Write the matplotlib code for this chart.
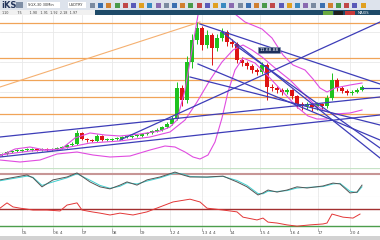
import matplotlib
matplotlib.use('Agg')
import matplotlib.pyplot as plt
from matplotlib.patches import Rectangle

# candles (index = bar number, price scale of the main pane)
opens = [10.63, 10.64, 10.66, 10.67, 10.67, 10.68, 10.68, 10.69, 10.68, 10.69,
         10.68, 10.69, 10.70, 10.71, 10.73, 10.74, 10.85, 10.79, 10.78, 10.77,
         10.82, 10.78, 10.78, 10.79, 10.79, 10.81, 10.81, 10.82, 10.82, 10.84,
         10.85, 10.87, 10.88, 10.91, 10.94, 10.99, 11.30, 11.18, 11.56, 11.78,
         11.90, 11.73, 11.83, 11.70, 11.80, 11.86, 11.76, 11.74, 11.58, 11.55,
         11.52, 11.48, 11.46, 11.53, 11.31, 11.30, 11.28, 11.26, 11.28, 11.22,
         11.14, 11.12, 11.14, 11.11, 11.14, 11.12, 11.20, 11.38, 11.30, 11.27,
         11.25, 11.26, 11.28]
closes = [10.64, 10.66, 10.67, 10.67, 10.68, 10.68, 10.69, 10.68, 10.69, 10.68,
          10.69, 10.70, 10.71, 10.73, 10.74, 10.85, 10.79, 10.78, 10.77, 10.82,
          10.78, 10.78, 10.79, 10.79, 10.81, 10.81, 10.82, 10.82, 10.84, 10.85,
          10.87, 10.88, 10.91, 10.94, 10.99, 11.30, 11.18, 11.56, 11.78, 11.90,
          11.73, 11.83, 11.70, 11.80, 11.86, 11.76, 11.74, 11.58, 11.55, 11.52,
          11.48, 11.46, 11.53, 11.31, 11.30, 11.28, 11.26, 11.28, 11.22, 11.14,
          11.12, 11.14, 11.11, 11.14, 11.12, 11.20, 11.38, 11.30, 11.27, 11.25,
          11.26, 11.28, 11.31]
highs = [10.65, 10.67, 10.68, 10.69, 10.69, 10.70, 10.70, 10.70, 10.70, 10.70,
         10.70, 10.71, 10.72, 10.74, 10.76, 10.88, 10.86, 10.80, 10.79, 10.84,
         10.83, 10.80, 10.80, 10.81, 10.82, 10.83, 10.83, 10.84, 10.85, 10.86,
         10.88, 10.90, 10.92, 10.96, 11.02, 11.36, 11.33, 11.62, 11.84, 11.96,
         11.92, 11.88, 11.85, 11.84, 11.90, 11.88, 11.79, 11.76, 11.61, 11.57,
         11.54, 11.50, 11.56, 11.55, 11.34, 11.32, 11.30, 11.30, 11.29, 11.23,
         11.16, 11.16, 11.15, 11.16, 11.15, 11.23, 11.45, 11.40, 11.32, 11.29,
         11.28, 11.30, 11.33]
lows = [10.62, 10.63, 10.65, 10.66, 10.66, 10.67, 10.67, 10.67, 10.67, 10.67,
        10.67, 10.68, 10.69, 10.70, 10.72, 10.73, 10.78, 10.76, 10.76, 10.76,
        10.77, 10.77, 10.77, 10.78, 10.78, 10.80, 10.80, 10.81, 10.81, 10.83,
        10.84, 10.86, 10.87, 10.90, 10.93, 10.98, 11.12, 11.15, 11.50, 11.74,
        11.68, 11.70, 11.53, 11.67, 11.77, 11.72, 11.71, 11.55, 11.52, 11.49,
        11.45, 11.43, 11.44, 11.18, 11.27, 11.25, 11.23, 11.24, 11.19, 11.10,
        11.08, 11.09, 11.07, 11.08, 11.09, 11.10, 11.18, 11.27, 11.25, 11.23,
        11.23, 11.25, 11.27]

# bollinger traces
bb_up_x = [-0.4, 2.6, 5.6, 8.6, 11.6, 14.6, 17.6, 20.6, 23.6, 27.6, 31.6, 33.6, 35.0,
           36.6, 38.0, 39.2, 40.6, 43.6, 45.6, 48.6, 52.0, 54.0, 56.2, 58.2, 60.6,
           62.2, 63.6, 65.0, 66.6, 69.6, 72.0]
bb_up = [10.62, 10.69, 10.71, 10.68, 10.68, 10.80, 10.85, 10.83, 10.82, 10.84, 10.87,
         10.91, 10.98, 11.28, 11.68, 12.03, 12.28, 12.23, 12.08, 11.96, 11.89, 11.80,
         11.63, 11.53, 11.48, 11.39, 11.30, 11.26, 11.30, 11.33, 11.35]
bb_mid_x = [-0.4, 5.6, 11.6, 17.6, 23.6, 29.6, 33.6, 36.6, 39.0, 41.6, 44.0, 46.2,
            48.2, 50.0, 52.0, 54.6, 57.6, 60.2, 62.6, 64.6, 66.6, 69.6, 72.0]
bb_mid = [10.63, 10.67, 10.69, 10.75, 10.77, 10.81, 10.86, 10.98, 11.16, 11.38, 11.56,
          11.68, 11.73, 11.68, 11.61, 11.50, 11.38, 11.25, 11.13, 11.07, 11.04, 11.05,
          11.08]
bb_low_x = [-0.4, 3.6, 7.6, 11.0, 15.0, 18.2, 21.6, 25.6, 29.6, 32.6, 34.6, 36.6,
            38.2, 39.6, 41.2, 42.6, 44.0, 45.2, 46.6, 48.2, 50.6, 53.2, 56.2, 59.0,
            61.2, 63.0, 65.0]
bb_low = [10.58, 10.56, 10.58, 10.64, 10.66, 10.63, 10.61, 10.62, 10.68, 10.72, 10.71,
          10.66, 10.61, 10.59, 10.63, 10.76, 11.00, 11.26, 11.48, 11.60, 11.55, 11.42,
          11.26, 11.11, 11.02, 10.99, 10.99]

# drawn objects
h_levels = [11.95, 11.60, 11.38, 11.21, 11.04]
fan_line = [(-0.4, 11.31), (39.6, 11.96)]
trend_lines = [
    [(-0.4, 10.81), (75.6, 11.21)],
    [(-0.4, 10.61), (75.6, 11.03)],
    [(23.6, 10.78), (75.6, 11.96)],
    [(39.6, 11.94), (75.6, 11.34)],
    [(44.0, 11.86), (75.6, 10.60)],
    [(46.6, 11.73), (75.6, 10.70)],
    [(39.2, 11.54), (75.6, 10.78)],
    [(37.6, 11.41), (75.6, 10.93)],
    [(72.0, 11.30), (75.6, 11.30)],
]

# oscillator pane
osc_x = [-0.4, 5.0, 6.2, 8.0, 10.2, 13.0, 15.0, 17.6, 19.6, 21.6, 23.6, 25.0, 27.0,
         29.0, 31.6, 34.6, 36.2, 37.6, 41.0, 44.2, 47.0, 49.0, 51.2, 52.2, 53.2,
         55.0, 57.0, 59.0, 61.0, 64.2, 66.2, 67.6, 69.6, 71.0, 72.0]
osc_k = [59, 76, 66, 35, 59, 69, 83, 52, 35, 28, 41, 52, 41, 59, 69, 86, 76, 69, 69,
         72, 52, 35, 7, 14, 24, 17, 24, 35, 31, 38, 48, 45, 14, 17, 41]
osc_d = [56, 72, 68, 40, 52, 66, 80, 58, 40, 30, 37, 49, 45, 55, 66, 83, 79, 71, 68,
         71, 57, 40, 12, 11, 20, 19, 22, 31, 33, 36, 45, 47, 20, 15, 35]

# lower pane
ind_x = [-0.4, 1.0, 2.2, 3.6, 6.2, 9.0, 11.6, 13.0, 15.0, 16.0, 18.0, 19.6, 21.6,
         23.6, 26.2, 29.0, 31.6, 34.2, 37.6, 39.6, 41.0, 44.2, 47.0, 48.2, 51.0,
         52.2, 53.2, 55.0, 57.0, 59.0, 61.6, 64.2, 65.0, 66.0, 68.2, 70.2, 71.6]
ind_v = [64, 81, 68, 64, 58, 58, 55, 74, 81, 58, 52, 48, 42, 48, 42, 52, 68, 84, 93,
         84, 64, 58, 52, 35, 26, 32, 19, 16, 10, 6, 10, 13, 16, 45, 35, 32, 45]

tick_pos = [4.0, 10.2, 16.0, 22.0, 27.6, 33.6, 40.0, 45.6, 51.6, 57.6, 63.2, 69.6]
tick_lab = ['05', '06 4', '07', '08', '09', '12 4', '13 4 4', '14', '15 4', '16 4',
            '17', '20 4']

BLUE = '#3d3db8'
ORANGE = '#f0a458'
MAGENTA = '#e04ce0'
GRID = '#e9e9e9'

fig = plt.figure(figsize=(3.8, 2.4), dpi=100)


def fx(x):
    return x / 380


def fy(y):
    return 1 - y / 240


def box(x0, y0, x1, y1, c, **kw):
    fig.add_artist(Rectangle((fx(x0), fy(y1)), fx(x1) - fx(x0), fy(y0) - fy(y1),
                             transform=fig.transFigure, color=c, lw=0, **kw))


# toolbar + info bar
box(0, 0, 380, 10, '#dde3ec')
box(0, 10, 95, 15, '#f1f1f1')
box(95, 10, 380, 15, '#1e4a68')
fig.text(fx(1), fy(5), 'iKS', fontsize=6, weight='bold', color='#22345a', va='center')
box(16, 2, 23, 8, '#7f8fa6')
box(27, 2, 60, 8, 'white')
fig.text(fx(28), fy(5), 'SGX-30 30Min', fontsize=2.6, color='#333', va='center')
box(68, 2, 86, 8, 'white')
fig.text(fx(69), fy(5), 'USDTRY', fontsize=2.6, color='#333', va='center')
icon_cols = ['#7a8aa0', '#3a6fb0', '#d08030', '#4a9a4a', '#c04848', '#5a5ab8', '#e0a020',
             '#3a8ac0', '#8a6ab0']
for k in range(34):
    box(90 + k * 8.2, 3, 95 + k * 8.2, 8, icon_cols[k % len(icon_cols)])
fig.text(fx(2), fy(12.6), '110        75       1.90   1.91  1.92  2.18  1.97 ', fontsize=2.4,
         color='#444', va='center')
box(323, 11, 333, 14.5, '#6aaa40')
box(334, 11, 343, 14.5, '#202020')
box(345, 11, 355, 14.5, '#c83a3a')
fig.text(fx(358), fy(12.7), 'MAXIS', fontsize=2.6, color='white', va='center')
box(0, 236, 380, 240, '#d2d2d2')

# main pane
ax = fig.add_axes([0, fy(168), 1, 153 / 240])
ax.set_xlim(-0.4, 75.6)
ax.set_ylim(10.50, 12.03)
ax.axis('off')
for t in tick_pos:
    ax.axvline(t, color=GRID, lw=0.6, zorder=0)
for p in [10.66, 10.96, 11.26, 11.56, 11.86]:
    ax.axhline(p, color=GRID, lw=0.6, zorder=0)
for p in h_levels:
    ax.axhline(p, color=ORANGE, lw=0.9, zorder=1)
ax.plot([fan_line[0][0], fan_line[1][0]], [fan_line[0][1], fan_line[1][1]],
        color='#f5b070', lw=0.8, zorder=1)

for i in range(len(closes)):
    c = '#1fc21f' if closes[i] >= opens[i] else '#dd1414'
    ax.vlines(i, lows[i], highs[i], color=c, lw=0.7, zorder=2)
    lo = min(opens[i], closes[i])
    hgt = max(abs(closes[i] - opens[i]), 0.008)
    ax.bar(i, hgt, bottom=lo, width=0.68, color=c, lw=0, zorder=2)

ax.plot(bb_up_x, bb_up, color=MAGENTA, lw=0.8, zorder=3)
ax.plot(bb_mid_x, bb_mid, color=MAGENTA, lw=0.8, zorder=3)
ax.plot(bb_low_x, bb_low, color=MAGENTA, lw=0.8, zorder=3)
for (x0, y0), (x1, y1) in trend_lines:
    ax.plot([x0, x1], [y0, y1], color=BLUE, lw=0.9, zorder=4)
ax.text(53.4, 11.68, '11.68.88', fontsize=3.2, color='white', ha='center', va='center',
        zorder=5, bbox=dict(boxstyle='square,pad=0.25', fc='#1c2f5a', ec='#8090b0', lw=0.4))

# oscillator pane
ax1 = fig.add_axes([0, fy(197), 1, 29 / 240])
ax1.set_xlim(-0.4, 75.6)
ax1.set_ylim(0, 100)
ax1.axis('off')
for t in tick_pos:
    ax1.axvline(t, color=GRID, lw=0.6, zorder=0)
ax1.axhline(99, color='#c6e2c6', lw=0.9)
ax1.axhline(78, color='#c79696', lw=1.5)
ax1.axhline(1, color='#e2e2e2', lw=0.8)
ax1.plot(osc_x, osc_d, color='#3fd0d0', lw=0.7)
ax1.plot(osc_x, osc_k, color='#555555', lw=0.7)

# lower pane
ax2 = fig.add_axes([0, fy(228), 1, 31 / 240])
ax2.set_xlim(-0.4, 75.6)
ax2.set_ylim(0, 100)
for s in ax2.spines.values():
    s.set_visible(False)
ax2.set_yticks([])
for t in tick_pos:
    ax2.axvline(t, color=GRID, lw=0.6, zorder=0)
ax2.axhline(61, color='#a33030', lw=1.0)
ax2.axhline(6.5, color='#4c9e4c', lw=1.0)
ax2.plot(ind_x, ind_v, color='#e33636', lw=0.7)
ax2.set_xticks(tick_pos)
ax2.set_xticklabels(tick_lab, fontsize=3.2, color='#555', ha='left')
ax2.tick_params(axis='x', length=2, width=0.4, color='#777', pad=0.5, direction='out')

fig.savefig('out.png', dpi=100)
